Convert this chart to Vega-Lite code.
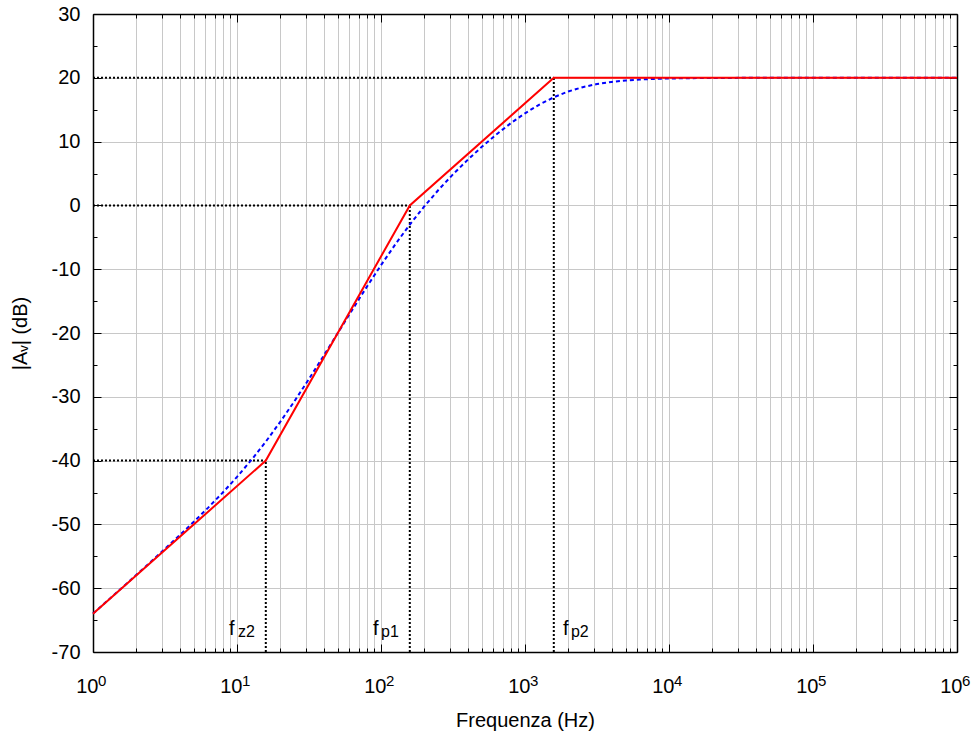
{
  "$schema": "https://vega.github.io/schema/vega-lite/v6.json",
  "autosize": {"type": "none"},
  "padding": {"left": 93, "top": 14, "right": 18, "bottom": 81},
  "width": 864,
  "height": 638,
  "config": {
    "font": "Liberation Sans",
    "view": {"stroke": null},
    "axis": {
      "labelFont": "Liberation Sans",
      "titleFont": "Liberation Sans",
      "labelFontSize": 20,
      "titleFontSize": 20,
      "titleFontWeight": "normal",
      "labelColor": "#000000",
      "titleColor": "#000000",
      "domainColor": "#000000",
      "domainWidth": 1.5,
      "tickColor": "#000000",
      "tickWidth": 1,
      "gridColor": "#c8c8c8",
      "gridWidth": 1,
      "labelOverlap": false,
      "labelBound": false,
      "labelFlush": false
    }
  },
  "datasets": {
    "asym": [
      {"f": 1, "db": -64},
      {"f": 15.849, "db": -40},
      {"f": 158.49, "db": 0},
      {"f": 1584.9, "db": 20},
      {"f": 1000000, "db": 20}
    ],
    "exact": [
      {"f": 1, "db": -63.98},
      {"f": 1.2589, "db": -61.97},
      {"f": 1.5849, "db": -59.96},
      {"f": 1.9953, "db": -57.93},
      {"f": 2.5119, "db": -55.89},
      {"f": 3.1623, "db": -53.83},
      {"f": 3.9811, "db": -51.74},
      {"f": 5.0119, "db": -49.59},
      {"f": 6.3096, "db": -47.37},
      {"f": 7.9433, "db": -45.04},
      {"f": 10, "db": -42.56},
      {"f": 12.589, "db": -39.9},
      {"f": 15.849, "db": -37.03},
      {"f": 19.953, "db": -33.94},
      {"f": 25.119, "db": -30.65},
      {"f": 31.623, "db": -27.2},
      {"f": 39.811, "db": -23.63},
      {"f": 50.119, "db": -20.0},
      {"f": 63.096, "db": -16.38},
      {"f": 79.433, "db": -12.81},
      {"f": 100, "db": -9.37},
      {"f": 125.89, "db": -6.08},
      {"f": 158.49, "db": -3.01},
      {"f": 199.53, "db": -0.17},
      {"f": 251.19, "db": 2.45},
      {"f": 316.23, "db": 4.87},
      {"f": 398.11, "db": 7.1},
      {"f": 501.19, "db": 9.18},
      {"f": 630.96, "db": 11.1},
      {"f": 794.33, "db": 12.86},
      {"f": 1000, "db": 14.44},
      {"f": 1258.9, "db": 15.81},
      {"f": 1584.9, "db": 16.95},
      {"f": 1995.3, "db": 17.85},
      {"f": 2511.9, "db": 18.53},
      {"f": 3162.3, "db": 19.02},
      {"f": 3981.1, "db": 19.35},
      {"f": 5011.9, "db": 19.58},
      {"f": 6309.6, "db": 19.73},
      {"f": 7943.3, "db": 19.83},
      {"f": 10000, "db": 19.89},
      {"f": 15849, "db": 19.96},
      {"f": 31623, "db": 19.99},
      {"f": 100000, "db": 20.0},
      {"f": 1000000, "db": 20.0}
    ],
    "refs": [
      {"f": 1, "f2": 15.849, "db": -40, "db2": -40},
      {"f": 1, "f2": 158.49, "db": 0, "db2": 0},
      {"f": 1, "f2": 1584.9, "db": 20, "db2": 20},
      {"f": 15.849, "f2": 15.849, "db": -70, "db2": -40},
      {"f": 158.49, "f2": 158.49, "db": -70, "db2": 0},
      {"f": 1584.9, "f2": 1584.9, "db": -70, "db2": 20}
    ],
    "mainlabels": [
      {"f": 8.8, "db": -67.3, "t": "f"},
      {"f": 87.9, "db": -67.3, "t": "f"},
      {"f": 1837, "db": -67.3, "t": "f"}
    ],
    "sublabels": [
      {"f": 10.16, "db": -67.6, "t": "z2"},
      {"f": 100, "db": -67.6, "t": "p1"},
      {"f": 2085, "db": -67.6, "t": "p2"}
    ],
    "exponents": [
      {"f": 1, "db": -75.3, "e": "0"},
      {"f": 10, "db": -75.3, "e": "1"},
      {"f": 100, "db": -75.3, "e": "2"},
      {"f": 1000, "db": -75.3, "e": "3"},
      {"f": 10000, "db": -75.3, "e": "4"},
      {"f": 100000, "db": -75.3, "e": "5"},
      {"f": 1000000, "db": -75.3, "e": "6"}
    ]
  },
  "resolve": {"axis": {"x": "independent", "y": "independent"}},
  "layer": [
    {
      "data": {"name": "refs"},
      "mark": {"type": "rule", "color": "#000000", "strokeWidth": 2, "strokeDash": [2, 2]},
      "encoding": {
        "x": {
          "field": "f", "type": "quantitative",
          "scale": {"type": "log", "domain": [1, 1000000]},
          "axis": {
            "orient": "bottom",
            "title": "Frequenza (Hz)",
            "titleX": 432,
            "titleY": 74,
            "titleBaseline": "alphabetic",
            "grid": true,
            "values": [1,2,3,4,5,6,7,8,9,10,20,30,40,50,60,70,80,90,100,200,300,400,500,600,700,800,900,1000,2000,3000,4000,5000,6000,7000,8000,9000,10000,20000,30000,40000,50000,60000,70000,80000,90000,100000,200000,300000,400000,500000,600000,700000,800000,900000,1000000],
            "labelExpr": "(datum.value == 1 || datum.value == 10 || datum.value == 100 || datum.value == 1000 || datum.value == 10000 || datum.value == 100000 || datum.value == 1000000) ? '10' : ''",
            "labelAlign": "right",
            "labelOffset": 5,
            "labelBaseline": "alphabetic",
            "tickSize": {"condition": {"test": "datum.value == 1 || datum.value == 10 || datum.value == 100 || datum.value == 1000 || datum.value == 10000 || datum.value == 100000 || datum.value == 1000000", "value": -8}, "value": -4},
            "labelPadding": 48
          }
        },
        "x2": {"field": "f2"},
        "y": {
          "field": "db", "type": "quantitative",
          "scale": {"domain": [-70, 30], "nice": false, "zero": false},
          "axis": {
            "orient": "left",
            "title": "|Aᵥ| (dB)",
            "titleX": -73,
            "titleY": 319,
            "titleAngle": -90,
            "titleAlign": "center",
            "titleBaseline": "middle",
            "grid": true,
            "values": [-70,-65,-60,-55,-50,-45,-40,-35,-30,-25,-20,-15,-10,-5,0,5,10,15,20,25,30],
            "labelExpr": "datum.value % 10 == 0 ? '' + datum.value : ''",
            "gridOpacity": {"condition": {"test": "datum.value % 10 == 0", "value": 1}, "value": 0},
            "tickSize": {"condition": {"test": "datum.value % 10 == 0", "value": -8}, "value": -4},
            "labelPadding": 21
          }
        },
        "y2": {"field": "db2"}
      }
    },
    {
      "data": {"name": "exact"},
      "mark": {"type": "line", "color": "#0000ff", "strokeWidth": 2, "strokeDash": [4, 3]},
      "encoding": {
        "x": {
          "field": "f", "type": "quantitative",
          "scale": {"type": "log", "domain": [1, 1000000]},
          "axis": {
            "orient": "top",
            "title": null,
            "labels": false,
            "grid": false,
            "values": [1,2,3,4,5,6,7,8,9,10,20,30,40,50,60,70,80,90,100,200,300,400,500,600,700,800,900,1000,2000,3000,4000,5000,6000,7000,8000,9000,10000,20000,30000,40000,50000,60000,70000,80000,90000,100000,200000,300000,400000,500000,600000,700000,800000,900000,1000000],
            "tickSize": {"condition": {"test": "datum.value == 1 || datum.value == 10 || datum.value == 100 || datum.value == 1000 || datum.value == 10000 || datum.value == 100000 || datum.value == 1000000", "value": -8}, "value": -4}
          }
        },
        "y": {
          "field": "db", "type": "quantitative",
          "scale": {"domain": [-70, 30], "nice": false, "zero": false},
          "axis": {
            "orient": "right",
            "title": null,
            "labels": false,
            "grid": false,
            "values": [-70,-65,-60,-55,-50,-45,-40,-35,-30,-25,-20,-15,-10,-5,0,5,10,15,20,25,30],
            "tickSize": {"condition": {"test": "datum.value % 10 == 0", "value": -8}, "value": -4}
          }
        }
      }
    },
    {
      "data": {"name": "asym"},
      "mark": {"type": "line", "color": "#ff0000", "strokeWidth": 2},
      "encoding": {
        "x": {"field": "f", "type": "quantitative", "axis": null},
        "y": {"field": "db", "type": "quantitative", "axis": null}
      }
    },
    {
      "data": {"name": "mainlabels"},
      "mark": {"type": "text", "fontSize": 20, "align": "left", "baseline": "alphabetic", "color": "#000000"},
      "encoding": {
        "x": {"field": "f", "type": "quantitative", "axis": null},
        "y": {"field": "db", "type": "quantitative", "axis": null},
        "text": {"field": "t"}
      }
    },
    {
      "data": {"name": "sublabels"},
      "mark": {"type": "text", "fontSize": 16, "align": "left", "baseline": "alphabetic", "color": "#000000"},
      "encoding": {
        "x": {"field": "f", "type": "quantitative", "axis": null},
        "y": {"field": "db", "type": "quantitative", "axis": null},
        "text": {"field": "t"}
      }
    },
    {
      "data": {"name": "exponents"},
      "mark": {"type": "text", "fontSize": 15, "align": "left", "baseline": "alphabetic", "dx": 5, "color": "#000000"},
      "encoding": {
        "x": {"field": "f", "type": "quantitative", "axis": null},
        "y": {"field": "db", "type": "quantitative", "axis": null},
        "text": {"field": "e"}
      }
    }
  ]
}
